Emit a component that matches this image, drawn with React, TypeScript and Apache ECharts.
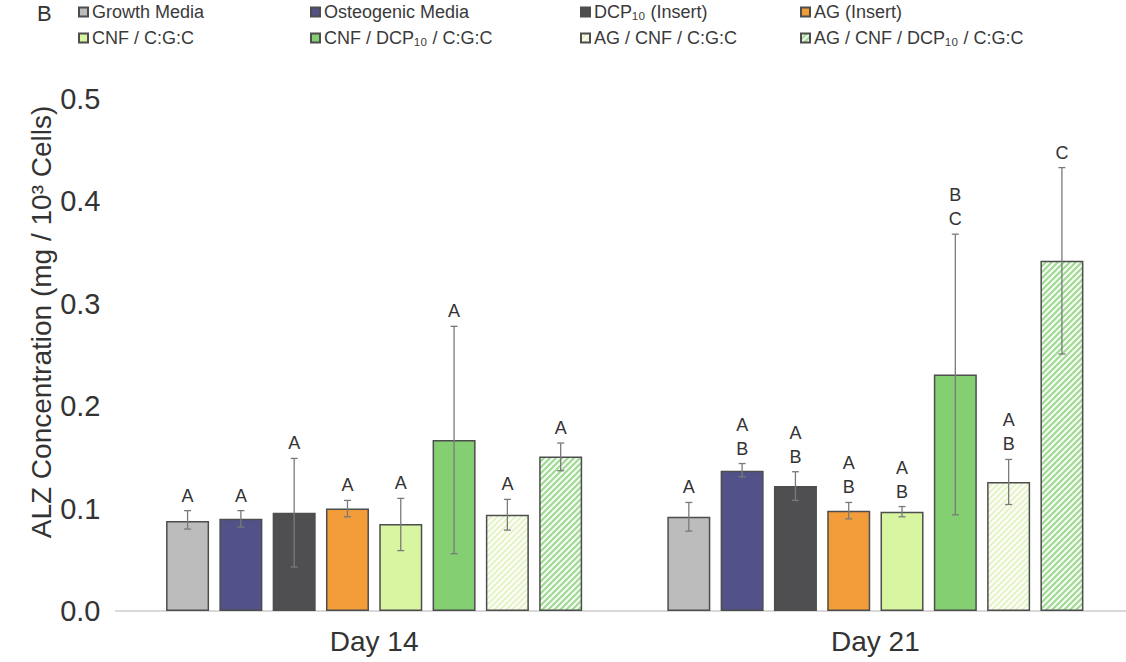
import React, { useEffect, useRef } from "react";
import * as echarts from "echarts";

const CATEGORIES = ["Day 14", "Day 21"];
const SERIES_NAMES = [
  "Growth Media",
  "Osteogenic Media",
  "DCP₁₀ (Insert)",
  "AG (Insert)",
  "CNF / C:G:C",
  "CNF / DCP₁₀ / C:G:C",
  "AG / CNF / C:G:C",
  "AG / CNF / DCP₁₀ / C:G:C",
];
const Y_TICKS = [0, 0.1, 0.2, 0.3, 0.4, 0.5];

const day14Means = [0.088, 0.09, 0.096, 0.1, 0.085, 0.167, 0.094, 0.151];
const day21Means = [0.092, 0.137, 0.122, 0.098, 0.097, 0.231, 0.126, 0.342];
const day14Low = [0.08, 0.082, 0.043, 0.092, 0.059, 0.056, 0.079, 0.137];
const day14High = [0.098, 0.098, 0.149, 0.108, 0.11, 0.278, 0.109, 0.164];
const day21Low = [0.078, 0.131, 0.108, 0.09, 0.092, 0.094, 0.104, 0.251];
const day21High = [0.106, 0.144, 0.136, 0.106, 0.102, 0.368, 0.148, 0.433];
const day14Letters = ["A", "A", "A", "A", "A", "A", "A", "A"];
const day21Letters = ["A", "A\nB", "A\nB", "A\nB", "A\nB", "B\nC", "A\nB", "C"];

const FONT = "'Liberation Sans', Arial, Helvetica, sans-serif";
const BAR_W = 43;
const GAP = 10.3;

function makeHatch(bg: string, fg: string, size: number, lw: number) {
  const c = document.createElement("canvas");
  c.width = size;
  c.height = size;
  const ctx = c.getContext("2d")!;
  ctx.fillStyle = bg;
  ctx.fillRect(0, 0, size, size);
  ctx.strokeStyle = fg;
  ctx.lineWidth = lw;
  ctx.beginPath();
  ctx.moveTo(0, size);
  ctx.lineTo(size, 0);
  ctx.moveTo(-size / 2, size / 2);
  ctx.lineTo(size / 2, -size / 2);
  ctx.moveTo(size / 2, size * 1.5);
  ctx.lineTo(size * 1.5, size / 2);
  ctx.stroke();
  return { image: c, repeat: "repeat", imageWidth: size, imageHeight: size } as any;
}

export default function App() {
  const ref = useRef<HTMLDivElement>(null);
  useEffect(() => {
    if (!ref.current) return;
    const chart = echarts.init(ref.current, undefined, { renderer: "svg" });

    const fills: any[] = [
      "#bcbcbc",
      "#525289",
      "#4f4f51",
      "#f39c3a",
      "#d8f5a2",
      "#83cf72",
      makeHatch("#fbfdf4", "#e0f1c2", 6, 1.6),
      makeHatch("#f4fbf2", "#9fd892", 6, 2),
    ];

    const barSeries = SERIES_NAMES.map((name, i) => ({
      type: "bar",
      name,
      data: [day14Means[i], day21Means[i]],
      barWidth: BAR_W,
      barGap: `${(GAP / BAR_W) * 100}%`,
      itemStyle: { color: fills[i], borderColor: "#4d4d4d", borderWidth: 1.5 },
      z: 2,
    }));

    const errSeries = SERIES_NAMES.map((_, i) => ({
      type: "custom",
      z: 5,
      silent: true,
      data: [
        [0, day14Low[i], day14High[i]],
        [1, day21Low[i], day21High[i]],
      ],
      renderItem: (params: any, api: any) => {
        const cat = api.value(0);
        const lo = api.value(1);
        const hi = api.value(2);
        const off = (i - 3.5) * (BAR_W + GAP);
        const x = api.coord([cat, 0])[0] + off;
        const yLo = api.coord([cat, lo])[1];
        const yHi = api.coord([cat, hi])[1];
        const txt = params.dataIndex === 0 ? day14Letters[i] : day21Letters[i];
        const ls = { stroke: "#7a7a7a", lineWidth: 1.3 };
        return {
          type: "group",
          children: [
            { type: "line", shape: { x1: x, y1: yLo, x2: x, y2: yHi }, style: ls },
            { type: "line", shape: { x1: x - 3.5, y1: yHi, x2: x + 3.5, y2: yHi }, style: ls },
            { type: "line", shape: { x1: x - 3.5, y1: yLo, x2: x + 3.5, y2: yLo }, style: ls },
            {
              type: "text",
              x,
              y: yHi - 3,
              style: {
                text: txt,
                fontSize: 18,
                fontFamily: FONT,
                fill: "#333333",
                align: "center",
                verticalAlign: "bottom",
                lineHeight: 24,
              },
            },
          ],
        };
      },
    }));

    const legendPos = [
      [78, 13],
      [310, 13],
      [580, 13],
      [800, 13],
      [78, 39],
      [310, 39],
      [580, 39],
      [800, 39],
    ];
    const legends = SERIES_NAMES.map((name, i) => ({
      data: [name],
      left: legendPos[i][0],
      top: legendPos[i][1] - 10,
      padding: 0,
      icon: "rect",
      itemWidth: 9,
      itemHeight: 9,
      itemGap: 0,
      selectedMode: false,
      textStyle: { fontSize: 18, fontFamily: FONT, color: "#3a3a3a", padding: [0, 0, 0, -1] },
    }));

    chart.setOption({
      animation: false,
      backgroundColor: "#ffffff",
      legend: legends,
      graphic: [
        {
          type: "text",
          left: 37,
          top: 2,
          style: { text: "B", fontSize: 22, fontFamily: FONT, fill: "#333333" },
        },
        {
          type: "text",
          x: 41,
          y: 322,
          rotation: Math.PI / 2,
          style: {
            text: "ALZ Concentration (mg / 10³ Cells)",
            fontSize: 28,
            fontFamily: FONT,
            fill: "#333333",
            align: "center",
            verticalAlign: "middle",
          },
        },
        {
          type: "line",
          shape: { x1: 115, y1: 611, x2: 124, y2: 611 },
          style: { stroke: "#d9d9d9", lineWidth: 2 },
        },
      ],
      grid: { left: 123.5, top: 99, width: 1016, bottom: 51 },
      xAxis: {
        type: "category",
        data: CATEGORIES,
        axisLine: { lineStyle: { color: "#d9d9d9", width: 2 } },
        axisTick: { show: false },
        axisLabel: { fontSize: 28, fontFamily: FONT, color: "#333333", margin: 16 },
      },
      yAxis: {
        type: "value",
        min: Y_TICKS[0],
        max: Y_TICKS[Y_TICKS.length - 1],
        interval: 0.1,
        axisLine: { show: false },
        axisTick: { show: false },
        splitLine: { show: false },
        axisLabel: {
          fontSize: 29,
          fontFamily: FONT,
          color: "#333333",
          margin: 23,
          formatter: (v: number) => v.toFixed(1),
        },
      },
      series: [...barSeries, ...errSeries],
    });
    return () => chart.dispose();
  }, []);
  return (
    <div
      ref={ref}
      style={{ position: "fixed", left: 0, top: 0, width: 1126, height: 662 }}
    />
  );
}
